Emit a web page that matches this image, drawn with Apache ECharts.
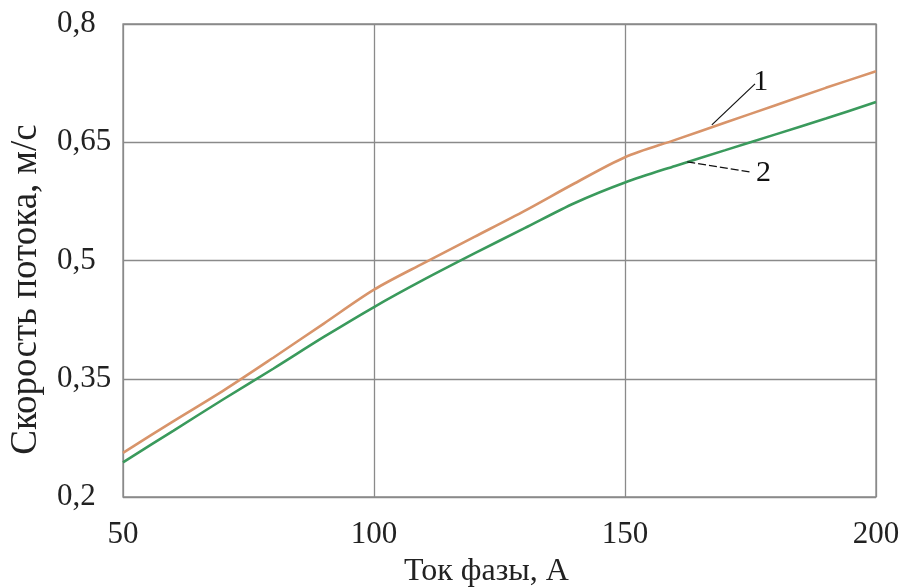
<!DOCTYPE html>
<html>
<head>
<meta charset="utf-8">
<script src="https://cdn.jsdelivr.net/npm/echarts@6/dist/echarts.min.js"></script>
<style>
  html, body { margin: 0; padding: 0; background: #fff; }
  #chart { width: 902px; height: 588px; }
</style>
</head>
<body>
<div id="chart"></div>
<script>
// ток фазы, А
const current = [50, 60, 70, 80, 90, 100, 110, 120, 130, 140, 150, 160, 170, 180, 190, 200];
// кривая 1
const speed1 = [0.256, 0.296, 0.335, 0.377, 0.420, 0.463, 0.497, 0.530, 0.563, 0.598, 0.631, 0.653, 0.675, 0.697, 0.719, 0.740];
// кривая 2
const speed2 = [0.244, 0.284, 0.324, 0.363, 0.403, 0.441, 0.476, 0.509, 0.541, 0.573, 0.599, 0.620, 0.640, 0.660, 0.680, 0.701];
const xTicks = [50, 100, 150, 200];
const yTicks = [0.2, 0.35, 0.5, 0.65, 0.8];

const font = 'Liberation Serif, Times New Roman, serif';
const chart = echarts.init(document.getElementById('chart'));

const pair = (xs, ys) => xs.map((x, i) => [x, ys[i]]);

chart.setOption({
    animation: false,
    backgroundColor: '#fff',
    grid: {
        left: 123, right: 26, top: 24, bottom: 91,
        outerBoundsMode: 'none',
        show: true, borderColor: '#8a8a8a', borderWidth: 1.3
    },
    xAxis: {
        type: 'value',
        min: xTicks[0], max: xTicks[xTicks.length - 1], interval: 50,
        name: 'Ток фазы, А', nameLocation: 'middle', nameGap: 59,
        nameTextStyle: { fontFamily: font, fontSize: 32, color: '#222', padding: [0, 26, 0, 0] },
        axisLine: { show: false },
        axisTick: { show: false },
        axisLabel: { fontFamily: font, fontSize: 31, color: '#222', margin: 22 },
        splitLine: { lineStyle: { color: '#8a8a8a', width: 1.3 } }
    },
    yAxis: {
        type: 'value',
        min: yTicks[0], max: yTicks[yTicks.length - 1], interval: 0.15,
        name: 'Скорость потока, м/с', nameLocation: 'middle', nameGap: 78,
        nameTextStyle: { fontFamily: font, fontSize: 37, color: '#222', padding: [0, 58, 0, 0] },
        axisLine: { show: false },
        axisTick: { show: false },
        axisLabel: {
            fontFamily: font, fontSize: 31, color: '#222', margin: 66, align: 'left',
            formatter: v => String(+v.toFixed(2)).replace('.', ',')
        },
        splitLine: { lineStyle: { color: '#8a8a8a', width: 1.3 } }
    },
    series: [
        {
            name: '1', type: 'line', data: pair(current, speed1), smooth: 0.3,
            symbol: 'none',
            lineStyle: { color: '#d8946a', width: 2.6 },
            markLine: {
                silent: true, symbol: 'none',
                lineStyle: { color: '#111', width: 1.2, type: 'solid' },
                label: { formatter: '1', position: 'end', fontFamily: font, fontSize: 30, color: '#111', distance: [8, 2] },
                data: [[{ coord: [167.3, 0.672] }, { coord: [175.9, 0.724] }]]
            }
        },
        {
            name: '2', type: 'line', data: pair(current, speed2), smooth: 0.3,
            symbol: 'none',
            lineStyle: { color: '#3a9a5c', width: 2.6 },
            markLine: {
                silent: true, symbol: 'none',
                lineStyle: { color: '#111', width: 1.2, type: [8, 3] },
                label: { formatter: '2', position: 'end', fontFamily: font, fontSize: 30, color: '#111', distance: 4 },
                data: [[{ coord: [162.4, 0.625] }, { coord: [175.3, 0.612] }]]
            }
        }
    ]
});
</script>
</body>
</html>
